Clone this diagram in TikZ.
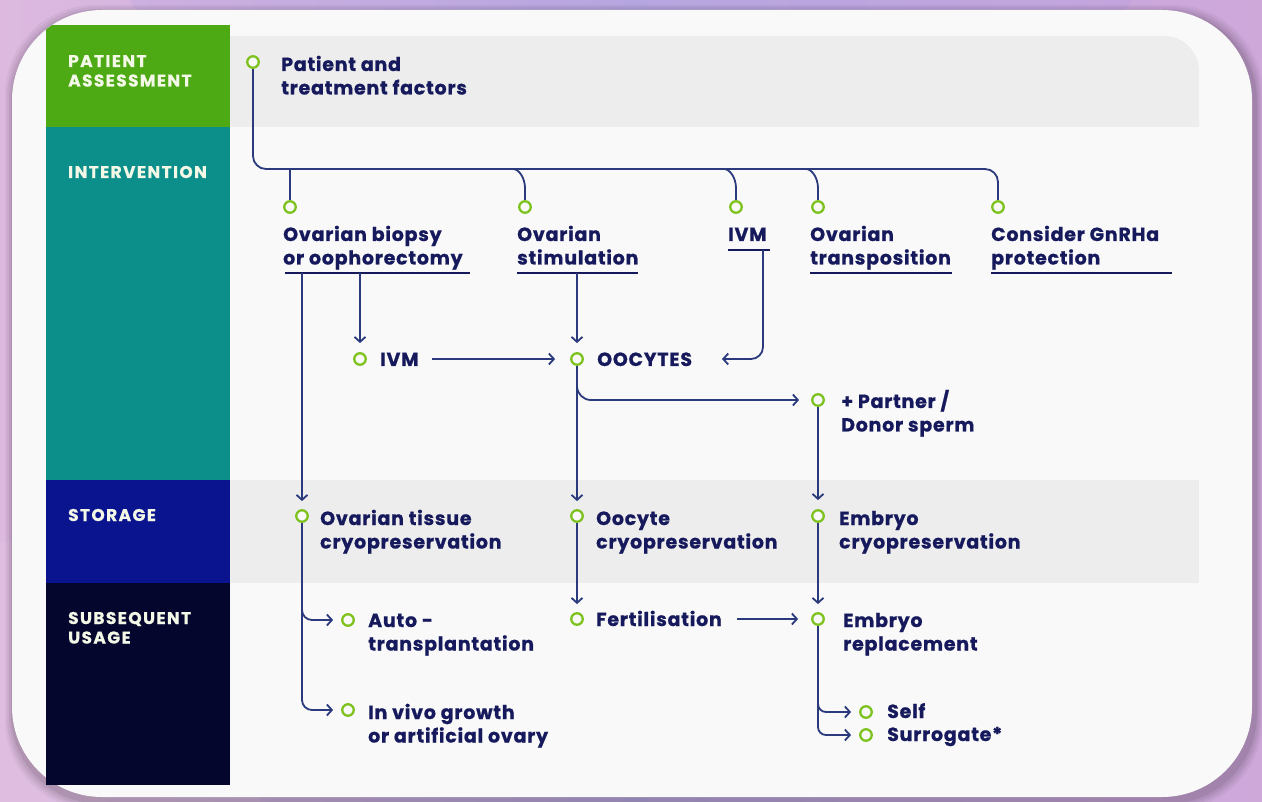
\documentclass[tikz,border=0pt]{standalone}
\usepackage{fontspec}
\setmainfont{Poppins}[LetterSpace=4,BoldFeatures={FakeBold=0.8}]
\newfontfamily\colfont{Poppins}[LetterSpace=8,BoldFeatures={FakeBold=0.6}]
\usetikzlibrary{arrows.meta,calc}
\definecolor{txt}{HTML}{161A5C}
\definecolor{lnc}{HTML}{2A3A7C}
\definecolor{ring}{HTML}{7DC21E}
\definecolor{cgreen}{HTML}{4DAA14}
\definecolor{cteal}{HTML}{0C8F8B}
\definecolor{cblue}{HTML}{0A148F}
\definecolor{cnavy}{HTML}{05062E}
\definecolor{rowgray}{HTML}{EDEDED}
\definecolor{cardbg}{HTML}{F9F9F9}
\definecolor{bgA}{HTML}{DDB9DF}
\definecolor{bgB}{HTML}{BBAADF}
\definecolor{bgC}{HTML}{CFA8DA}
\definecolor{coltxt}{HTML}{F4F8E6}
\newcommand{\twoln}[2]{\begin{tabular}[t]{@{}l@{}}#1\\#2\end{tabular}}
\pgfdeclarelayer{back}
\pgfdeclarelayer{mid}
\pgfsetlayers{back,mid,main}
\begin{document}
\begin{tikzpicture}[x=1pt,y=-1pt,
  dot/.style={circle,draw=ring,line width=2.3pt,fill=cardbg,minimum size=11.5pt,inner sep=0pt},
  lbl/.style={font=\bfseries\fontsize{19}{23.5}\selectfont,text=txt,inner sep=0pt,anchor=base west},
  col/.style={font=\colfont\bfseries\fontsize{17}{19.5}\selectfont,text=coltxt,inner sep=0pt,anchor=base west},
  conn/.style={draw=lnc,line width=1.8pt},
  arr/.style={conn,-{Straight Barb[length=5pt,width=11pt]}},
  uline/.style={draw=txt,line width=1.8pt}]
\useasboundingbox (0,0) rectangle (1262,802);

% ---------- nodes ----------
\node[dot] (c0) at (253,62) {};
\node[lbl] (t0) at (281,71) {\twoln{Patient and}{treatment factors}};

\node[dot] (c1) at (290,207) {};
\node[lbl] (t1) at (283,241) {\twoln{Ovarian biopsy}{or oophorectomy}};
\node[dot] (c2) at (525,207) {};
\node[lbl] (t2) at (517,241) {\twoln{Ovarian}{stimulation}};
\node[dot] (c3) at (736,207) {};
\node[lbl] (t3) at (728,241) {IVM};
\node[dot] (c4) at (818,207) {};
\node[lbl] (t4) at (810,241) {\twoln{Ovarian}{transposition}};
\node[dot] (c5) at (998,207) {};
\node[lbl] (t5) at (991,241) {\twoln{Consider GnRHa}{protection}};

\node[dot] (c6) at (360,359) {};
\node[lbl] (t6) at (380,366) {IVM};
\node[dot] (c7) at (577,359) {};
\node[lbl] (t7) at (597,366) {OOCYTES};
\node[dot] (c8) at (818,400) {};
\node[lbl] (t8) at (841,408) {\twoln{+ Partner /}{Donor sperm}};

\node[dot] (c9) at (302,516) {};
\node[lbl] (t9) at (320,525) {\twoln{Ovarian tissue}{cryopreservation}};
\node[dot] (c10) at (577,516) {};
\node[lbl] (t10) at (596,525) {\twoln{Oocyte}{cryopreservation}};
\node[dot] (c11) at (818,516) {};
\node[lbl] (t11) at (839,525) {\twoln{Embryo}{cryopreservation}};

\node[dot] (c12) at (348,620) {};
\node[lbl] (t12) at (368,627) {\twoln{Auto -}{transplantation}};
\node[dot] (c13) at (348,710) {};
\node[lbl] (t13) at (368,719) {\twoln{In vivo growth}{or artificial ovary}};
\node[dot] (c14) at (577,619) {};
\node[lbl] (t14) at (596,626) {Fertilisation};
\node[dot] (c15) at (818,619) {};
\node[lbl] (t15) at (843,627) {\twoln{Embryo}{replacement}};
\node[dot] (c16) at (866,712) {};
\node[lbl] (t16) at (887,718) {Self};
\node[dot] (c17) at (866,735) {};
\node[lbl] (t17) at (887,741) {Surrogate*};

% column labels
\node[col] (l1) at (68,67) {\twoln{PATIENT}{ASSESSMENT}};
\node[col] (l2) at (68,178) {INTERVENTION};
\node[col] (l3) at (68,521) {STORAGE};
\node[col] (l4) at (68,624) {\twoln{SUBSEQUENT}{USAGE}};

% ---------- background ----------
\begin{pgfonlayer}{back}
\shade[left color=bgA,right color=bgC,middle color=bgB] (0,0) rectangle (1262,802);
\fill[bgA!80!white,opacity=0.35] (0,802) circle[radius=260];
\fill[bgB!85!blue,opacity=0.15] (631,0) ellipse[x radius=500,y radius=60];
\foreach \o/\a in {9/0.04,7/0.05,5/0.06,3/0.08}
  \fill[black,opacity=\a,rounded corners=90pt] (12-\o+2,10-\o+4) rectangle (1252+\o+2,797+\o+4);
\fill[cardbg,rounded corners=90pt] (12,10) rectangle (1252,797);
\fill[rowgray] (230,127) -- (230,36) -- (1164,36) arc[start angle=-90,end angle=0,radius=35] -- (1199,127) -- cycle;
\fill[rowgray] (230,480) rectangle (1199,583);
\begin{scope}
  \clip[rounded corners=90pt] (12,10) rectangle (1252,797);
  \fill[cgreen] (46,25) rectangle (230,127);
\end{scope}
\fill[cteal] (46,127) rectangle (230,480);
\fill[cblue] (46,480) rectangle (230,583);
\fill[cnavy] (46,583) rectangle (230,785);
\end{pgfonlayer}

% ---------- connectors ----------
\begin{pgfonlayer}{mid}
\coordinate (trk) at (0,169);
\draw[conn,rounded corners=13pt] (c0.south) |- (c5.north |- trk) -- (c5.north);
\draw[conn] (c1.north) -- (c1.north |- trk);
\draw[conn] (c2.north) -- ++(0,-12) .. controls +(0,-10) and +(6,0) .. ($(c2.north |- trk)+(-12,0)$);
\draw[conn] (c3.north) -- ++(0,-12) .. controls +(0,-10) and +(6,0) .. ($(c3.north |- trk)+(-12,0)$);
\draw[conn] (c4.north) -- ++(0,-12) .. controls +(0,-10) and +(6,0) .. ($(c4.north |- trk)+(-12,0)$);

% underlines
\draw[uline] (285,273) -- (470,273);
\draw[uline] (517,273) -- (638,273);
\draw[uline] (728,250) -- (770,250);
\draw[uline] (810,273) -- (952,273);
\draw[uline] (991,273) -- (1172,273);
\coordinate (u1a) at (302,273);
\coordinate (u1b) at (360,273);
\coordinate (u2) at (577,273);
\coordinate (u3) at (763,250);
\coordinate (a3) at (722,359);

\draw[arr,shorten >=8pt] (u1a) -- (c9.north);
\draw[arr,shorten >=9pt] (u1b) -- (c6.north);
\draw[arr,shorten <=13pt,shorten >=15pt] (t6.east |- c6) -- (c7.west);
\draw[arr,shorten >=9pt] (u2) -- (c7.north);
\draw[arr,rounded corners=12pt] (u3) |- (a3);
\draw[arr,shorten >=8pt] (c7.south) -- (c10.north);
\draw[arr,rounded corners=14pt,shorten >=12pt] (c7.south) |- (c8.west);
\draw[arr,shorten >=9pt] (c8.south) -- (c11.north);

\draw[arr,rounded corners=10pt,shorten >=8pt] (c9.south) |- (c12.west);
\draw[arr,rounded corners=10pt,shorten >=8pt] (c9.south) |- (c13.west);
\draw[arr,shorten >=8pt] (c10.south) -- (c14.north);
\draw[arr,shorten <=15pt,shorten >=13pt] (t14.east |- c14) -- (c15.west);
\draw[arr,shorten >=8pt] (c11.south) -- (c15.north);
\draw[arr,rounded corners=8pt,shorten >=8pt] (c15.south) |- (c16.west);
\draw[arr,rounded corners=8pt,shorten >=8pt] (c15.south) |- (c17.west);
\end{pgfonlayer}
\end{tikzpicture}
\end{document}
